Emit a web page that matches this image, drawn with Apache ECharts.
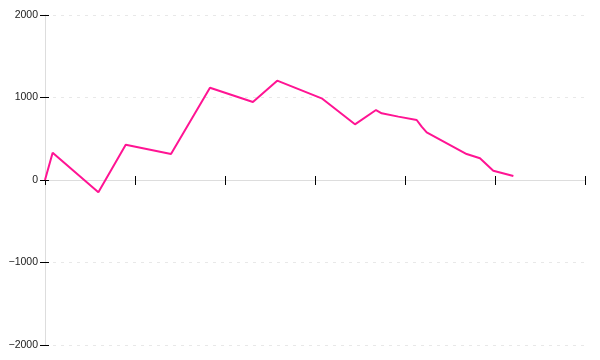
<!DOCTYPE html>
<html>
<head>
<meta charset="utf-8">
<script src="https://cdn.jsdelivr.net/npm/echarts@6/dist/echarts.min.js"></script>
<style>html,body{margin:0;padding:0;background:#fff}#c{width:600px;height:360px}</style>
</head>
<body>
<div id="c"></div>
<script>
var xValues = [0, 0.85, 5.93, 8.97, 14.0, 18.33, 23.1, 25.8, 30.74, 34.44, 36.78, 37.41, 39.26, 41.3, 41.85, 42.41, 46.85, 48.33, 49.81, 52.04];
var yValues = [0, 331, -149, 428, 315, 1119, 945, 1204, 990, 675, 848, 808, 768, 727, 646, 578, 315, 263, 113, 48];
var yTicks = [-2000, -1000, 0, 1000, 2000];

var data = xValues.map(function (x, i) { return [x, yValues[i]]; });
var chart = echarts.init(document.getElementById('c'), null, {renderer: 'canvas'});
var tickStyle = {color: '#000', width: 1};
chart.setOption({
  animation: false,
  grid: {left: 45, right: 15, top: 15, bottom: 15},
  xAxis: [{
    type: 'value', min: 0, max: 60, interval: 10,
    axisLine: {onZero: true, lineStyle: {color: '#ddd', width: 1}},
    axisTick: {show: true, length: 5, lineStyle: tickStyle},
    axisLabel: {show: false},
    splitLine: {show: false}
  }, {
    type: 'value', min: 0, max: 60, interval: 10, position: 'bottom',
    axisLine: {onZero: true, onZeroAxisIndex: 0, lineStyle: {color: '#ddd', width: 1}},
    axisTick: {show: true, inside: true, length: 4, lineStyle: tickStyle},
    axisLabel: {show: false},
    splitLine: {show: false}
  }],
  yAxis: [{
    type: 'value', min: yTicks[0], max: yTicks[yTicks.length - 1], interval: 1000,
    axisLine: {show: true, onZero: false, lineStyle: {color: '#ddd', width: 1}},
    axisTick: {show: true, length: 5, lineStyle: tickStyle},
    axisLabel: {
      color: '#222', fontFamily: 'Liberation Sans', fontSize: 10.5, margin: 7,
      formatter: function (v) { return v < 0 ? '\u2212' + Math.abs(v) : String(v); }
    },
    splitLine: {show: true, lineStyle: {color: '#e8e8e8', type: [3, 5], width: 1}}
  }, {
    type: 'value', min: yTicks[0], max: yTicks[yTicks.length - 1], interval: 1000, position: 'left',
    axisLine: {show: false, onZero: false},
    axisTick: {show: true, inside: true, length: 4, lineStyle: tickStyle},
    axisLabel: {show: false},
    splitLine: {show: false}
  }],
  series: [{
    type: 'line',
    data: data,
    showSymbol: false,
    symbol: 'none',
    lineStyle: {color: '#ff1493', width: 2},
    itemStyle: {color: '#ff1493'}
  }]
});
</script>
</body>
</html>
